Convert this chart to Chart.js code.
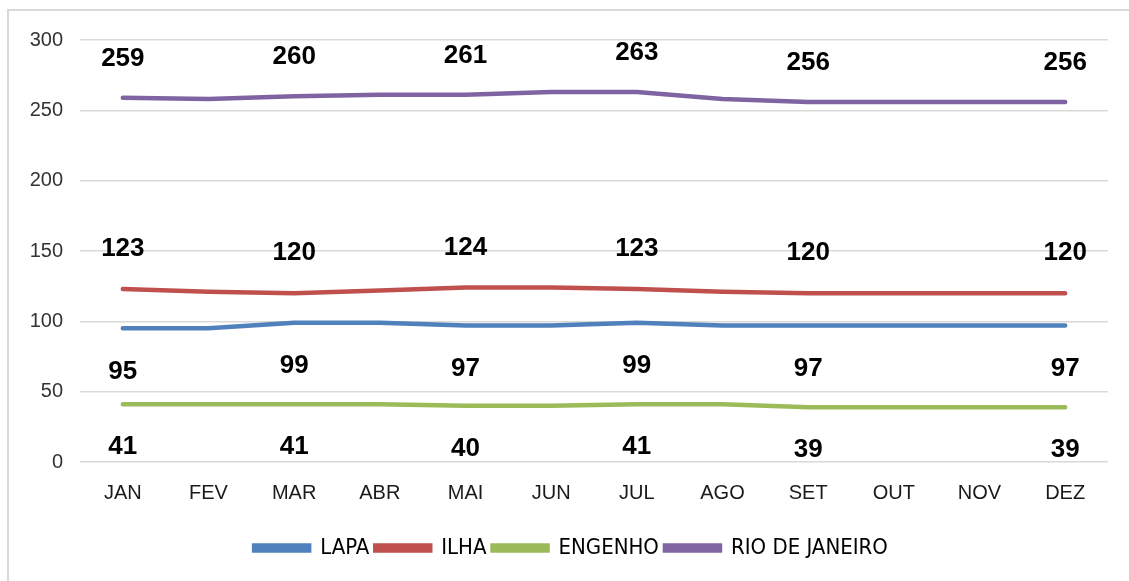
<!DOCTYPE html>
<html>
<head>
<meta charset="utf-8">
<script src="https://cdn.jsdelivr.net/npm/chart.js@4.4.1/dist/chart.umd.min.js"></script>
<style>
    body { margin: 0; background: #fff; }
    #caixa { width: 1129px; height: 581px; position: relative; }
</style>
</head>
<body>
<div id="caixa"><canvas id="grafic"></canvas></div>
<script>
// dados
const meses = ['JAN', 'FEV', 'MAR', 'ABR', 'MAI', 'JUN', 'JUL', 'AGO', 'SET', 'OUT', 'NOV', 'DEZ']
const lapa = [95, 95, 99, 99, 97, 97, 99, 97, 97, 97, 97, 97]
const ilha = [123, 121, 120, 122, 124, 124, 123, 121, 120, 120, 120, 120]
const engenho = [41, 41, 41, 41, 40, 40, 41, 41, 39, 39, 39, 39]
const rio = [259, 258, 260, 261, 261, 263, 263, 258, 256, 256, 256, 256]
const ticksY = [0, 50, 100, 150, 200, 250, 300]

// meses que mostram o valor escrito
const mesesComRotulo = [0, 2, 4, 6, 8, 11]

// moldura cinza (só esquerda e topo aparecem na figura)
const moldura = {
    id: 'moldura',
    afterLayout(chart) {
        // legenda um pouco mais à direita, como no original
        chart.legend.left = 34
    },
    beforeDraw(chart) {
        let ctx = chart.ctx
        ctx.save()
        ctx.strokeStyle = '#d9d9d9'
        ctx.lineWidth = 2
        ctx.beginPath()
        ctx.moveTo(8, 581)
        ctx.lineTo(8, 10)
        ctx.lineTo(1129, 10)
        ctx.stroke()
        ctx.restore()
    }
}

// escreve os valores em cima / embaixo das linhas
const rotulos = {
    id: 'rotulos',
    afterDatasetsDraw(chart) {
        let ctx = chart.ctx
        ctx.save()
        ctx.font = 'bold 26px "Liberation Sans", Arial, sans-serif'
        ctx.fillStyle = '#000'
        ctx.textAlign = 'center'
        ctx.textBaseline = 'middle'
        chart.data.datasets.forEach((ds, i) => {
            let meta = chart.getDatasetMeta(i)
            mesesComRotulo.forEach(k => {
                let ponto = meta.data[k]
                ctx.fillText(ds.data[k], ponto.x, ponto.y + ds.deslocRotulo)
            })
        })
        ctx.restore()
    }
}

function criarGrafico() {
    let ctx = document.getElementById('grafic').getContext('2d')

    Chart.defaults.font.family = '"Liberation Sans", Arial, sans-serif'

    const data = {
        labels: meses,
        datasets: [
            { label: 'LAPA', data: lapa, borderColor: '#4f81bd', backgroundColor: '#4f81bd', deslocRotulo: 43 },
            { label: 'ILHA', data: ilha, borderColor: '#c0504d', backgroundColor: '#c0504d', deslocRotulo: -40 },
            { label: 'ENGENHO', data: engenho, borderColor: '#9bbb59', backgroundColor: '#9bbb59', deslocRotulo: 43 },
            { label: 'RIO DE JANEIRO', data: rio, borderColor: '#8064a2', backgroundColor: '#8064a2', deslocRotulo: -39 }
        ]
    }

    const config = {
        type: 'line',
        data: data,
        options: {
            responsive: true,
            maintainAspectRatio: false,
            animation: false,
            elements: {
                line: { borderWidth: 4.5, tension: 0, borderCapStyle: 'round' },
                point: { radius: 0, hoverRadius: 0 }
            },
            layout: { padding: { left: 0, right: 21, top: 40, bottom: 12 } },
            plugins: {
                legend: {
                    display: true,
                    position: 'bottom',
                    labels: {
                        boxWidth: 55,
                        boxHeight: 5,
                        padding: 6,
                        color: '#000',
                        font: { family: '"Liberation Sans Narrow", "DejaVu Sans Condensed", Arial, sans-serif', size: 22 }
                    }
                },
                tooltip: { enabled: false }
            },
            scales: {
                x: {
                    offset: true,
                    afterFit(scale) { scale.height += 7 }, // espaço extra antes da legenda
                    grid: { display: false, drawTicks: false },
                    border: { display: false },
                    ticks: { color: '#1a1a1a', padding: 19, font: { size: 20 } }
                },
                y: {
                    min: 0,
                    max: 300,
                    afterFit(scale) { scale.width = 80 },
                    afterBuildTicks(scale) { scale.ticks = ticksY.map(v => ({ value: v })) },
                    grid: { color: '#d9d9d9', lineWidth: 1.5, drawTicks: false },
                    border: { display: false },
                    ticks: { color: '#333', padding: 17, font: { size: 20 } }
                }
            }
        },
        plugins: [moldura, rotulos]
    }

    grafic = new Chart(ctx, config)
}

let grafic = null
criarGrafico()
</script>
</body>
</html>
